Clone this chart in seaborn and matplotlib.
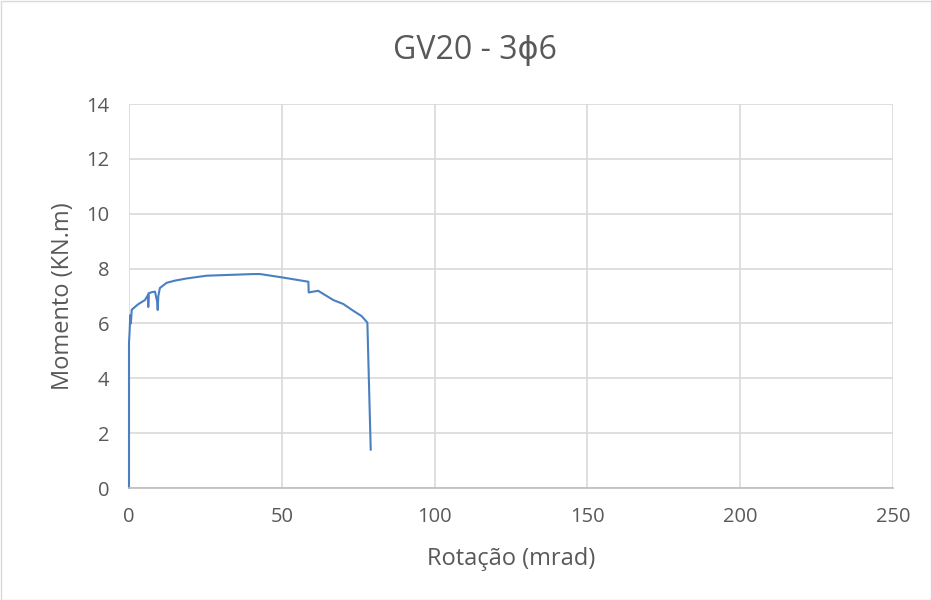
import matplotlib
matplotlib.use("Agg")
import matplotlib.pyplot as plt
import seaborn as sns
import pandas as pd

rotacao = [0.0, 0.0, 0.2, 0.4, 0.6, 0.9, 3.0, 5.2, 6.0, 6.3, 6.3, 6.4, 7.5, 8.5, 9.2, 9.4, 9.6, 10.1,
           12.3, 15.0, 18.9, 25.4, 33.0, 40.7, 42.9, 50.0, 58.7, 58.8, 61.9, 66.9, 70.1, 73.4, 76.1, 78.0, 79.1]
momento = [0.0, 5.29, 5.7, 6.3, 6.0, 6.5, 6.7, 6.85, 7.0, 7.03, 6.6, 7.1, 7.14, 7.16, 6.8, 6.49, 7.0, 7.29,
           7.48, 7.56, 7.64, 7.74, 7.77, 7.80, 7.80, 7.68, 7.52, 7.13, 7.19, 6.85, 6.71, 6.46, 6.27, 6.03, 1.39]

titulo = "GV20 - 3ϕ6"
xlabel = "Rotação (mrad)"
ylabel = "Momento (KN.m)"

df = pd.DataFrame({"x": rotacao, "y": momento})

sns.set_theme(style="white")
plt.rcParams['font.family'] = ['Open Sans', 'DejaVu Sans']

fig = plt.figure(figsize=(9.31, 6.0), dpi=100)
ax = fig.add_axes([129/931, 1-488/600, (893-129)/931, (488-104)/600])

sns.lineplot(data=df, x="x", y="y", sort=False, estimator=None, ax=ax,
             color="#4a7fc1", linewidth=1.5)
for ln in ax.lines:
    ln.set_clip_on(False)

ax.set_xlim(0, 250)
ax.set_ylim(0, 14)
ax.set_xticks(range(0, 251, 50))
ax.set_yticks(range(0, 15, 2))
ax.grid(True, color="#d9d9d9", linewidth=1.2)
ax.set_axisbelow(True)
for s in ["top", "right", "left"]:
    ax.spines[s].set_visible(False)
ax.spines["bottom"].set_color("#bfbfbf")
ax.tick_params(axis="both", labelsize=14.5, colors="#595959", length=0, pad=14)
ax.set_xlabel(xlabel, fontsize=17, color="#595959", labelpad=14)
ax.set_ylabel(ylabel, fontsize=17, color="#595959", labelpad=8)
fig.text(475/931, 1-50/600, titulo, fontsize=23, color="#595959", ha="center", va="center")

border = plt.Rectangle((0.5/931, 0.5/600), 1-1/931, 1-1/600, transform=fig.transFigure,
                       fill=False, edgecolor="#d9d9d9", linewidth=1)
fig.patches.append(border)

fig.savefig("out.png", dpi=100)
